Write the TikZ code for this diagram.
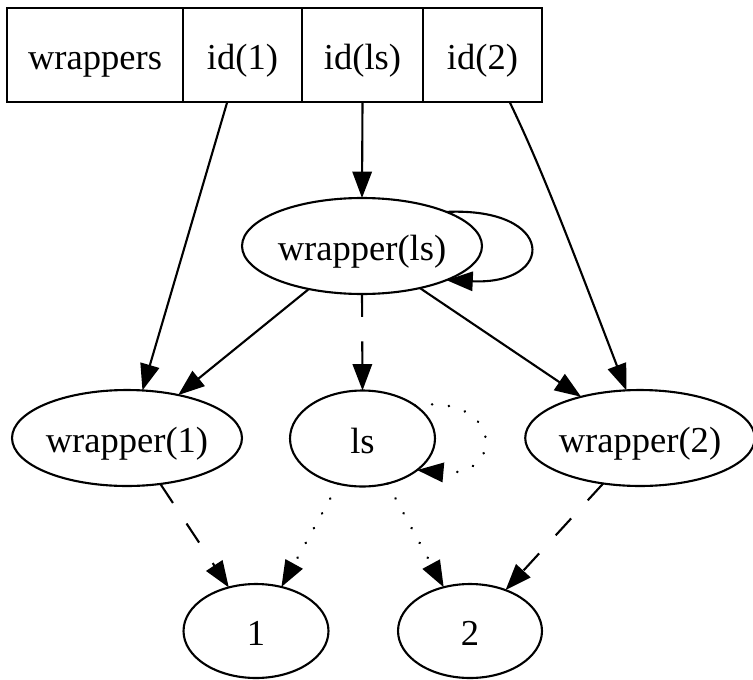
\documentclass[tikz,border=0pt]{standalone}
\usepackage{fontspec}
\setmainfont{Liberation Serif}
\usepackage{tikz}
\usetikzlibrary{arrows.meta,shapes.geometric}

\begin{document}
\begin{tikzpicture}[->, >={Triangle[length=15pt,width=11pt]}, x=0.02cm, y=-0.02cm,
                line width=1.2pt,
                main node/.style={ellipse,draw,inner sep=0pt,outer sep=0pt,minimum height=1.92cm,
                                  text height=19pt,text depth=2pt,
                                  font=\fontsize{20.8}{25}\selectfont},
                cell/.style={rectangle,draw,inner sep=0pt,outer sep=0pt,minimum height=1.88cm,
                             text height=19pt,text depth=2pt,
                             font=\fontsize{20.8}{25}\selectfont},
                dashedge/.style={dash pattern=on 13pt off 14pt},
                dotedge/.style={line width=1.5pt,line cap=round,dash pattern=on 0.1pt off 9.5pt}]

      \useasboundingbox (0,0) rectangle (753,679);

      % the record
      \node[cell, minimum width=3.52cm] (wrappers) at (95,55) {wrappers};
      \node[cell, minimum width=2.38cm] (id1) at (242.5,55) {id(1)};
      \node[cell, minimum width=2.42cm] (idls) at (362.5,55) {id(ls)};
      \node[cell, minimum width=2.38cm] (id2) at (482.5,55) {id(2)};

      \node[main node, minimum width=4.8cm] (wls) at (362,246) {wrapper(ls)};
      \node[main node, minimum width=4.6cm] (w1) at (127,438) {wrapper(1)};
      \node[main node, minimum width=2.9cm] (ls) at (362.5,438.5) {ls};
      \node[main node, minimum width=4.44cm] (w2) at (640,438) {wrapper(2)};
      \node[main node, minimum width=2.9cm, minimum height=1.88cm] (n1) at (256,631) {1};
      \node[main node, minimum width=2.88cm, minimum height=1.88cm] (n2) at (470,631) {2};

      \draw (id1.-108) -- (w1.72);
      \draw (idls.south) -- (wls.north);
      \draw (id2.-60) .. controls (540,165) and (565,230) .. (w2.106);
      \draw (wls.22) .. controls +(110,-5) and +(110,5) .. (wls.-22);
      \draw (wls.-141) -- (w1.40);
      \draw[dashedge] (wls.south) -- (ls.north);
      \draw (wls.-36) -- (w2.145);
      \draw[dotedge] (ls.32) .. controls +(88,-12) and +(88,8) .. (ls.-30);
      \draw[dashedge] (w1.-54) -- (n1.122);
      \draw[dotedge] (ls.-118) -- (n1.60);
      \draw[dotedge] (ls.-61) -- (n2.121);
      \draw[dashedge] (w2.-129) -- (n2.49);
  \end{tikzpicture}
\end{document}
